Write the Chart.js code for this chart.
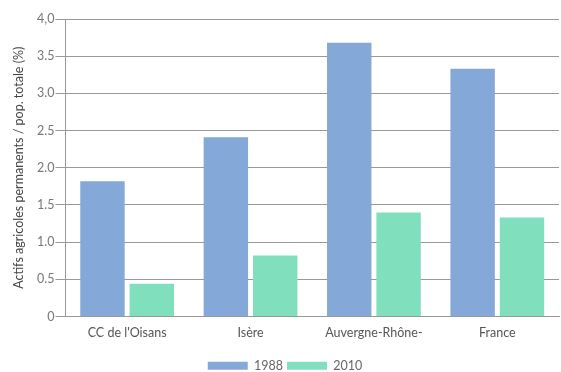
<!DOCTYPE html>
<html>
<head>
<meta charset="utf-8">
<script src="https://cdn.jsdelivr.net/npm/chart.js@4"></script>
<style>
  html, body { margin: 0; padding: 0; background: #fff; }
  #wrap { width: 561px; height: 372px; }
</style>
</head>
<body>
<div id="wrap"><canvas id="myChart" width="561" height="372"></canvas></div>
<script>
const categories = ["CC de l'Oisans", "Isère", "Auvergne-Rhône-", "France"]
const values1988 = [1.82, 2.41, 3.68, 3.33]
const values2010 = [0.44, 0.82, 1.40, 1.33]
const tickLabels = { 0: "0", 0.5: "0.5", 1: "1.0", 1.5: "1.5", 2: "2.0", 2.5: "2.5", 3: "3.0", 3.5: "3.5", 4: "4,0" }

const font = { family: "Lato", size: 12.5 }

const data = {
    labels: categories,
    datasets: [
        {
            label: "1988",
            data: values1988,
            backgroundColor: "#84a9d8",
            barPercentage: 0.9,
            categoryPercentage: 0.8
        },
        {
            label: "2010",
            data: values2010,
            backgroundColor: "#80dfbd",
            barPercentage: 0.9,
            categoryPercentage: 0.8
        }
    ]
}

// push the legend a little lower, closer to the bottom edge
const legendShift = {
    id: "legendShift",
    afterLayout(chart) {
        chart.legend.top += 10
        chart.legend.bottom += 10
    }
}

const config = {
    type: "bar",
    data: data,
    plugins: [legendShift],
    options: {
        responsive: false,
        animation: false,
        layout: { padding: { top: 19, right: 2, left: 11, bottom: 0 } },
        plugins: {
            legend: {
                position: "bottom",
                labels: {
                    boxWidth: 40,
                    boxHeight: 8,
                    color: "#666",
                    font: font,
                    padding: 4
                }
            },
            tooltip: { enabled: false }
        },
        scales: {
            x: {
                grid: { display: false },
                border: { color: "#999" },
                ticks: { color: "#555", font: font, padding: 1 },
                afterFit: (axis) => { axis.height += 4 }
            },
            y: {
                min: 0,
                max: 4,
                grid: { color: "#999", tickLength: 10 },
                border: { color: "#999" },
                ticks: {
                    stepSize: 0.5,
                    color: "#777",
                    font: font,
                    padding: 1,
                    callback: (value) => tickLabels[value]
                },
                title: {
                    display: true,
                    text: "Actifs agricoles permanents / pop. totale (%)",
                    color: "#444",
                    font: font,
                    padding: { top: 0, bottom: 10 }
                }
            }
        }
    }
}

new Chart(document.querySelector("#myChart"), config)
</script>
</body>
</html>
